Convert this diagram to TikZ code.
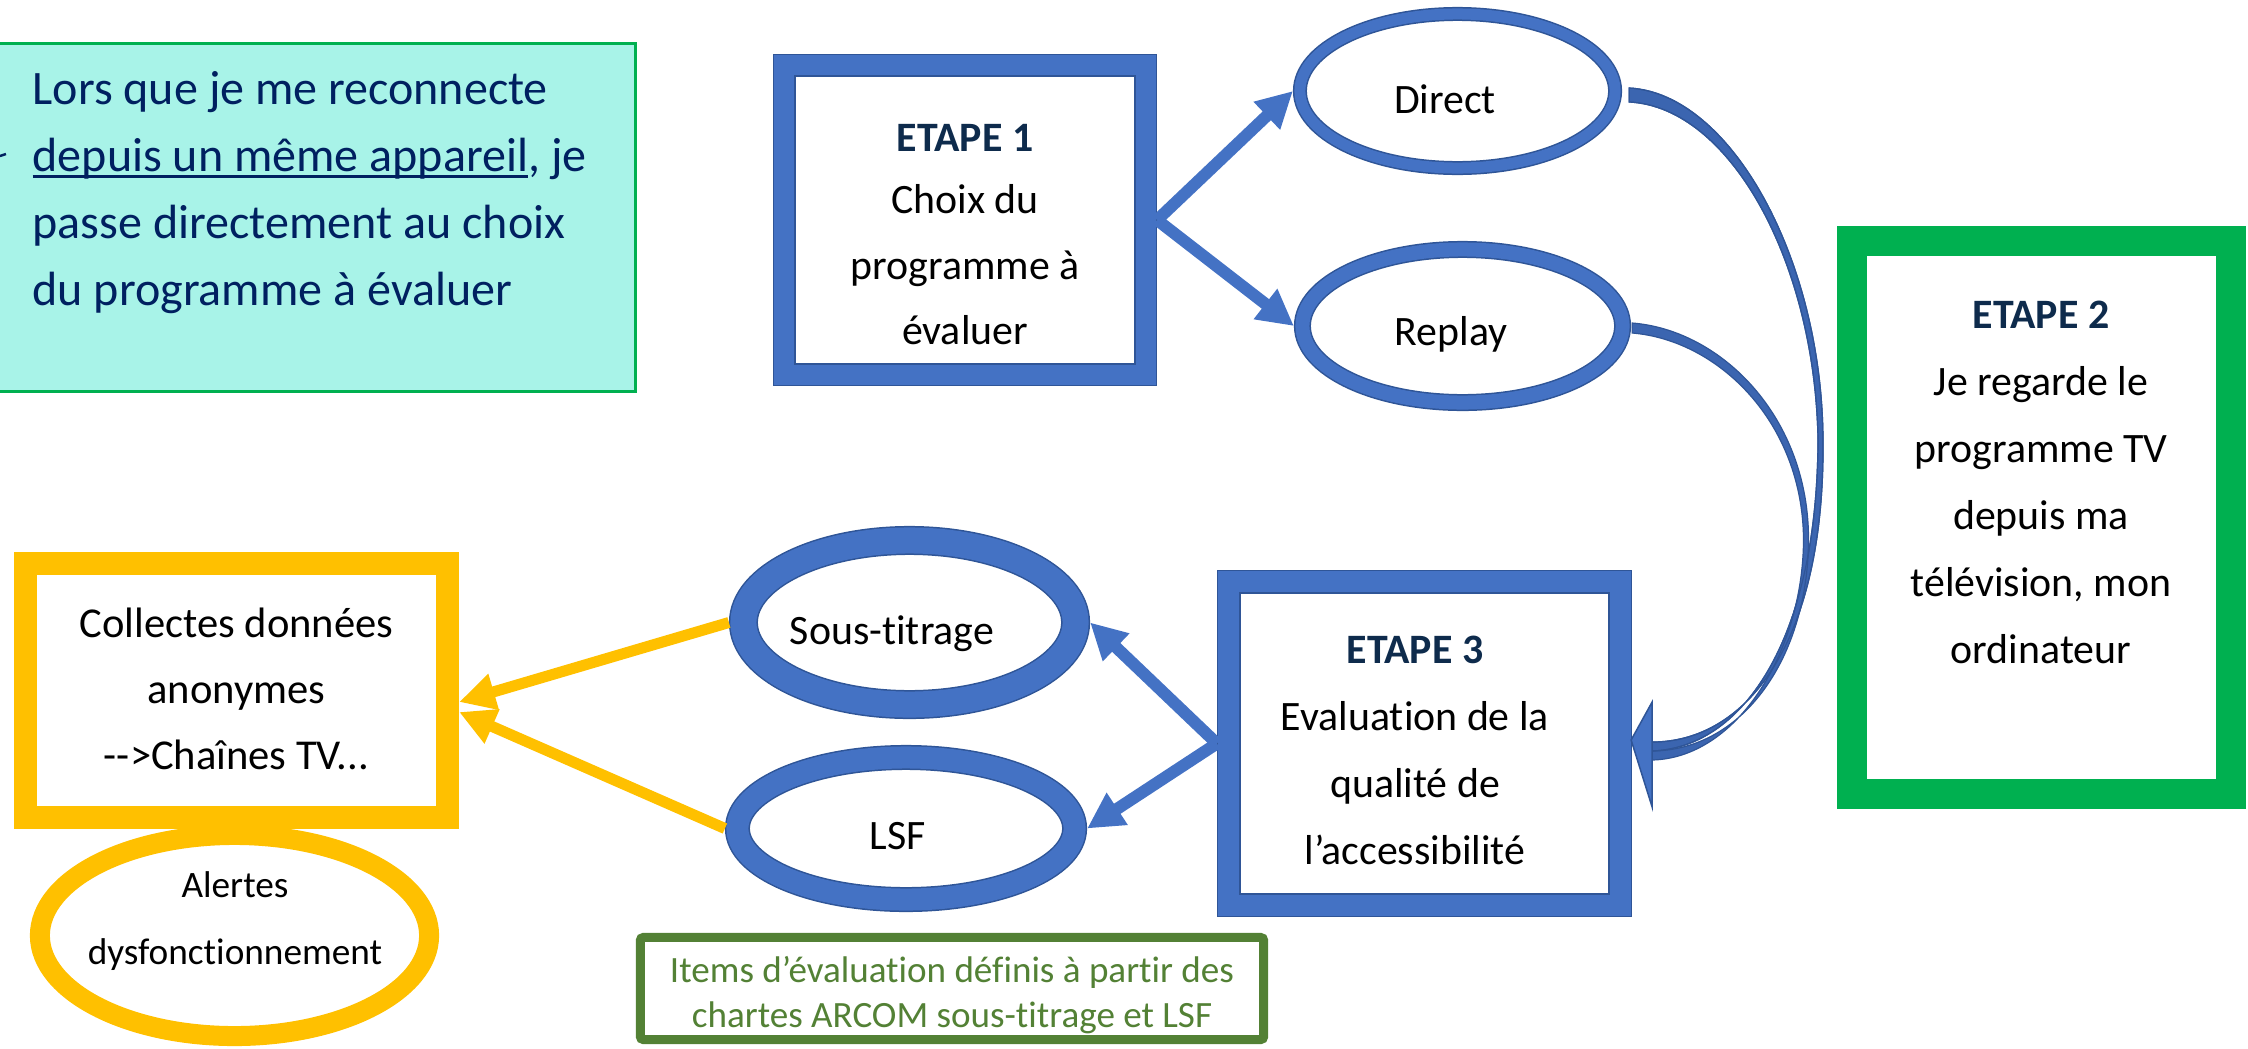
\documentclass[tikz,border=0pt]{standalone}
\usepackage{fontspec}
\setmainfont{Carlito}[Ligatures={TeX,NoCommon}]
\usetikzlibrary{arrows.meta,shapes.geometric,calc}
\definecolor{bblue}{HTML}{4472C4}
\definecolor{bdark}{HTML}{2F5597}
\definecolor{navy}{HTML}{0E2B4C}
\definecolor{tealtext}{HTML}{002060}
\definecolor{tealfill}{HTML}{A8F3E8}
\definecolor{gbright}{HTML}{00B050}
\definecolor{ylw}{HTML}{FFC000}
\definecolor{olive}{HTML}{538135}
\newcommand{\fsz}[2]{\fontsize{#1}{#2}\selectfont}
\newcommand{\myul}[1]{\setbox0\hbox{#1}\rlap{\rule[-1.6pt]{\wd0}{0.75pt}}\box0}
\newcommand{\hd}[1]{\textbf{\textcolor{navy}{#1}}}
\begin{document}
\begin{tikzpicture}[x=0.01cm,y=-0.01cm,
  bluering/.style={draw=bdark, line width=0.015cm, double=bblue, double distance=#1,
    outer sep={0.5*#1+0.015cm}, fill=white, inner sep=0pt},
  plainbox/.style={rectangle, fill=white, inner sep=0pt},
  txt/.style={align=center, inner sep=0pt, font=\fsz{11.9}{18.63}},
  bluearrow/.style={draw=bblue, line width=0.12cm, -{Triangle[length=0.36cm,width=0.36cm]}},
  ylwarrow/.style={draw=ylw, line width=0.11cm, -{Triangle[length=0.36cm,width=0.35cm]}},
  curvefill/.style={fill=bblue!55!bdark, draw=bdark, line width=0.012cm},
  headfill/.style={fill=bblue, draw=bdark, line width=0.015cm, line join=miter}
]
\useasboundingbox (0,0) rectangle (2248,1048);

% top-left note
\node[plainbox, draw=gbright, line width=0.03cm, fill=tealfill,
      minimum width=6.39cm, minimum height=3.48cm] (teal) at (316,217.5) {};
\node[anchor=west, align=left, inner sep=0pt, text=tealtext, font=\fsz{13.66}{19.06}] (tealtxt) at (32,193)
  {Lors que je me reconnecte\\\myul{depuis un même appareil}, je\\passe directement au choix\\du programme à évaluer};
\draw[tealtext, line width=0.025cm] (0,156) -- (6,154);

% ETAPE 1
\node[rectangle, bluering=0.20cm, minimum width=3.61cm, minimum height=3.09cm] (e1) at (965,220) {};
\node[txt] (e1txt) at (965,235) {\hd{ETAPE 1}\\[-0.035cm]Choix du\\programme à\\évaluer};

% Direct / Replay
\node[ellipse, bluering=0.11cm, minimum width=3.15cm, minimum height=1.54cm] (direct) at (1457.5,91) {};
\node[txt] (directtxt) at (1445,99) {Direct};
\node[ellipse, bluering=0.14cm, minimum width=3.20cm, minimum height=1.53cm] (replay) at (1462.5,326) {};
\node[txt] (replaytxt) at (1451,334) {Replay};

% ETAPE 2
\node[plainbox, draw=gbright, line width=0.30cm, minimum width=3.79cm, minimum height=5.53cm] (e2) at (2041.5,517.5) {};
\node[txt, font=\fsz{11.9}{19.06}] (e2txt) at (2041,482.5) {\hd{ETAPE 2}\\Je regarde le\\programme TV\\depuis ma\\télévision, mon\\ordinateur};

% ETAPE 3
\node[rectangle, bluering=0.21cm, minimum width=3.91cm, minimum height=3.23cm] (e3) at (1424.5,743.5) {};
\node[txt, font=\fsz{11.9}{19.06}] (e3txt) at (1415,750.5) {\hd{ETAPE 3}\\Evaluation de la\\qualité de\\l’accessibilité};

% Sous-titrage / LSF
\node[ellipse, bluering=0.26cm, minimum width=3.32cm, minimum height=1.64cm] (sous) at (909.5,622.5) {};
\node[txt] (soustxt) at (892,633.5) {Sous-titrage};
\node[ellipse, bluering=0.22cm, minimum width=3.37cm, minimum height=1.42cm] (lsf) at (906,828.5) {};
\node[txt] (lsftxt) at (897.5,836.5) {LSF};

% Alertes + Collectes
\node[ellipse, draw=ylw, line width=0.20cm, fill=white, inner sep=0pt,
      minimum width=3.89cm, minimum height=2.01cm] (alert) at (234.5,935.5) {};
\node[txt, font=\fsz{10.6}{19.06}] (alerttxt) at (235,921.5) {Alertes\\dysfonctionnement};
\node[plainbox, draw=ylw, line width=0.23cm, outer sep=0.115cm,
      minimum width=4.22cm, minimum height=2.54cm] (col) at (236.5,690.5) {};
\node[txt, font=\fsz{12.1}{18.8}] (coltxt) at (236.5,689) {Collectes données\\anonymes\\-{}->Chaînes TV...};

% Items box
\node[plainbox, draw=olive, line width=0.09cm, rounded corners=0.03cm,
      minimum width=6.23cm, minimum height=1.02cm] (items) at (952,988.5) {};
\node[txt, text=olive, font=\fsz{10.55}{12.8}] (itemstxt) at (952,995)
  {Items d’évaluation définis à partir des\\chartes ARCOM sous-titrage et LSF};

% straight arrows
\draw[bluearrow] (e1.east) -- (direct.west);
\draw[bluearrow] (e1.east) -- (replay.west);
\draw[bluearrow] (e3.west) -- (sous.east);
\draw[bluearrow] (e3.west) -- (lsf.east);
\draw[ylwarrow] (sous.west) -- ([yshift=-0.115cm]col.east);
\draw[ylwarrow] (lsf.west) -- ([yshift=-0.215cm]col.east);

% curved arrows to ETAPE 3
\coordinate (d1) at ($(direct.east)+(7,-3)$);
\coordinate (d2) at ($(direct.east)+(7,11)$);
\coordinate (r1) at ($(replay.east)+(1,-3)$);
\coordinate (r2) at ($(replay.east)+(1,7)$);
\coordinate (t1) at ($(e3.east)+(20,-1.5)$);
\coordinate (t2) at ($(e3.east)+(20,7.5)$);
\coordinate (t3) at ($(e3.east)+(20,16.5)$);
\fill[curvefill] (d1) .. controls (1730,93) and (1822,258) .. (1823,440)
   .. controls (1825,645) and (1745,742) .. (t1) -- (t2)
   .. controls (1740,748) and (1817,645) .. (1818,440)
   .. controls (1815,262) and (1730,107) .. (d2) -- cycle;
\filldraw[curvefill] (r1) .. controls (1722,330) and (1809,418) .. (1808.5,540)
   .. controls (1808,655) and (1745,750) .. (t2) -- (t3)
   .. controls (1738,758) and (1803,650) .. (1803.5,540)
   .. controls (1803,422) and (1718,340) .. (r2) -- cycle;
\draw[curvefill, fill=none] (d1) .. controls (1730,93) and (1822,258) .. (1823,440)
   .. controls (1825,645) and (1745,742) .. (t1) -- (t2)
   .. controls (1740,748) and (1817,645) .. (1818,440)
   .. controls (1815,262) and (1730,107) .. (d2) -- cycle;
\filldraw[headfill] ($(e3.east)+(20,-41.5)$) -- ($(e3.east)+(-1,-3.5)$) -- ($(e3.east)+(20,63.5)$) -- cycle;
\end{tikzpicture}
\end{document}
